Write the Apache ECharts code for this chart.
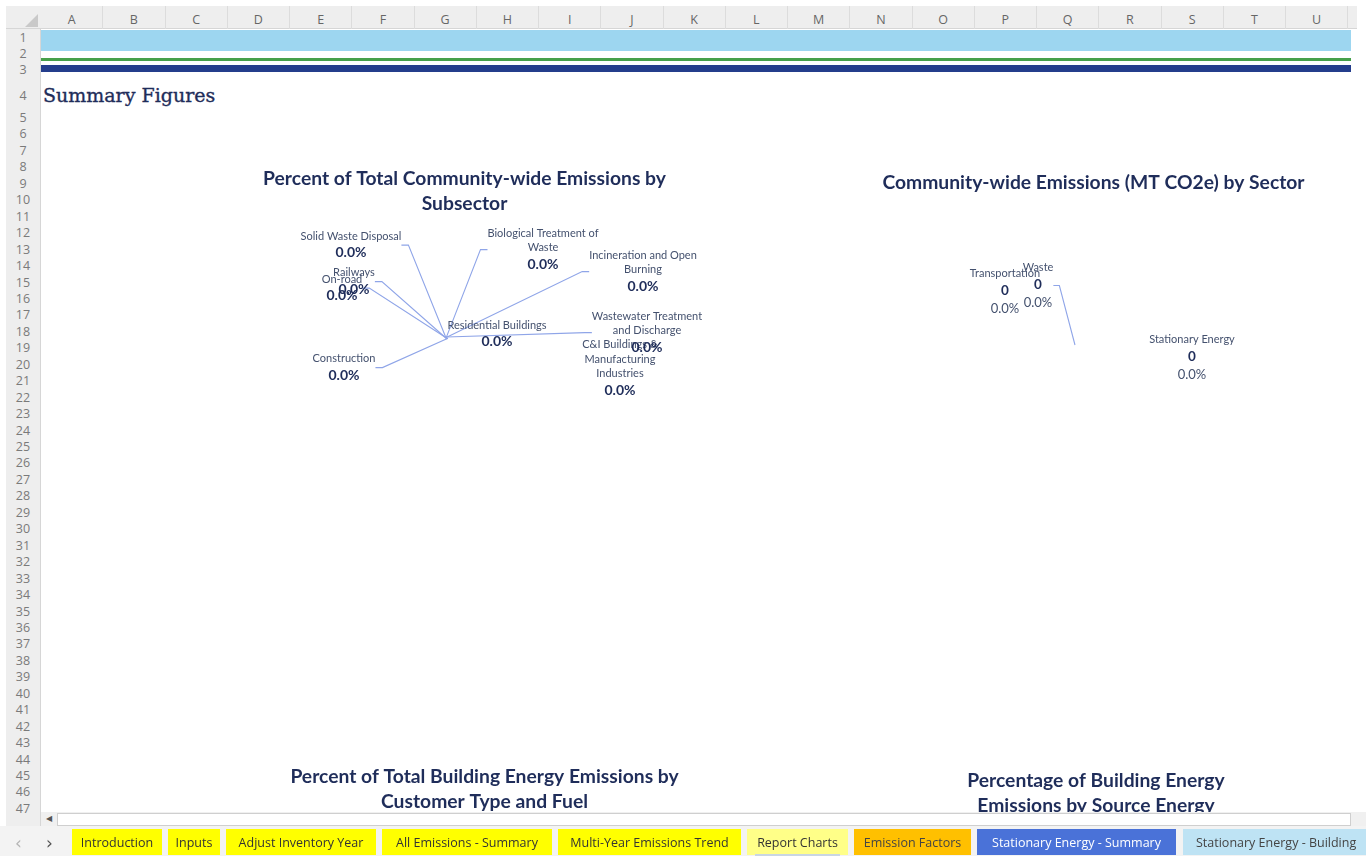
<!DOCTYPE html>
<html><head><meta charset="utf-8"><title>Summary Figures</title>
<script src="https://cdn.jsdelivr.net/npm/echarts@6/dist/echarts.min.js"></script>
<style>
*{box-sizing:border-box}
html,body{margin:0;padding:0;width:1366px;height:856px;overflow:hidden;background:#fff}
.a{position:absolute}
#chart{position:absolute;left:0;top:0;width:1366px;height:856px;z-index:1}
.chrome{z-index:2}
#colhdr{left:6px;top:6px;width:1351px;height:23px;background:#EEEEEE;border-bottom:1px solid #D6D6D6}
.col{position:absolute;top:0;height:23px;padding-top:5px;line-height:22px;text-align:center;font:12.5px 'Open Sans',sans-serif;color:#666;border-right:1px solid #DCDCDC;overflow:hidden}
#rowhdr{left:6px;top:29px;width:35px;height:797px;background:#EEEEEE;border-right:1px solid #D6D6D6}
.rn{position:absolute;left:0;width:34px;text-align:center;font:12.5px 'Open Sans',sans-serif;color:#7a7a7a;height:16px;line-height:16px}
#corner{left:25px;top:14px;width:0;height:0;border-left:13px solid transparent;border-bottom:13px solid #C9C9C9}
#hscroll{left:41px;top:812px;width:1325px;height:14px;background:#F0F0F0}
#hbar{left:57px;top:813px;width:1294px;height:13px;background:#fff;border:1px solid #CFCFCF}
#harrow{left:43px;top:812px;width:12px;height:14px;font:8px 'DejaVu Sans',sans-serif;color:#555;line-height:14px;text-align:center}
#tabbar{left:0;top:826px;width:1366px;height:30px;background:#F3F3F3}
.tab{position:absolute;top:3px;height:26px;padding-top:5px;line-height:26px;text-align:center;font:12.5px 'Open Sans',sans-serif;color:#333;white-space:nowrap;overflow:hidden}
.nav{position:absolute;top:3px;height:26px;padding-top:4px;line-height:26px;font:17px 'DejaVu Sans',sans-serif;overflow:hidden}
#fill1{left:41px;top:30px;width:1310px;height:21px;background:#9DD6F0;z-index:0}
#fill2{left:41px;top:58px;width:1310px;height:3px;background:#46A04A;z-index:0}
#fill3{left:41px;top:65px;width:1310px;height:7px;background:#243D8C;z-index:0}
#heading{left:43px;top:84px;font:19px 'DejaVu Serif',serif;color:#1F2D5A;white-space:nowrap;z-index:0;-webkit-text-stroke:0.35px #1F2D5A}
</style></head>
<body>
<div id="fill1" class="a"></div>
<div id="fill2" class="a"></div>
<div id="fill3" class="a"></div>
<div id="heading" class="a">Summary Figures</div>
<div id="chart"></div>
<div id="colhdr" class="a chrome"></div>
<div id="rowhdr" class="a chrome"></div>
<div id="corner" class="a chrome"></div>
<div id="hscroll" class="a chrome"></div>
<div id="hbar" class="a chrome"></div>
<div id="harrow" class="a chrome">&#9664;</div>
<div id="tabbar" class="a chrome"></div>
<script>
// ---------- data ----------
const SUBSECTORS = ['Residential Buildings', 'C&I Buildings & Manufacturing Industries', 'Construction', 'On-road', 'Railways', 'Solid Waste Disposal', 'Biological Treatment of Waste', 'Incineration and Open Burning', 'Wastewater Treatment and Discharge'];
const SUBSECTOR_EMISSIONS = [0, 0, 0, 0, 0, 0, 0, 0, 0];
const SECTORS = ['Stationary Energy', 'Transportation', 'Waste'];
const SECTOR_EMISSIONS = [0, 0, 0];
const CHART_TITLES = [
  'Percent of Total Community-wide Emissions by\nSubsector',
  'Community-wide Emissions (MT CO2e) by Sector',
  'Percent of Total Building Energy Emissions by\nCustomer Type and Fuel',
  'Percentage of Building Energy\nEmissions by Source Energy'
];
const COLUMN_LABELS = ['A','B','C','D','E','F','G','H','I','J','K','L','M','N','O','P','Q','R','S','T','U'];
const ROW_LABELS = [1,2,3,4,5,6,7,8,9,10,11,12,13,14,15,16,17,18,19,20,21,22,23,24,25,26,27,28,29,30,31,32,33,34,35,36,37,38,39,40,41,42,43,44,45,46,47];
const SHEET_TABS = ['Introduction', 'Inputs', 'Adjust Inventory Year', 'All Emissions - Summary', 'Multi-Year Emissions Trend', 'Report Charts', 'Emission Factors', 'Stationary Energy - Summary', 'Stationary Energy - Building'];

// ---------- layout / style ----------
const TAB_BOX = [[72,90],[168,52],[226,150],[382,170],[558,183],[747,101],[854,117],[977,199],[1183,200]];
const TAB_STYLE = [['#FFFF00','#333'],['#FFFF00','#333'],['#FFFF00','#333'],['#FFFF00','#333'],['#FFFF00','#333'],['#FFFF88','#333'],['#FFC000','#444'],['#4A72D8','#fff'],['#BEE3F4','#444']];
const TITLE_POS = [[464.5,166.5],[1093.5,170.5],[484.5,764.5],[1096,768]];
const PIE1 = {
  center: [447, 338],
  offsets: {
    'Residential Buildings': [50, -3.5],
    'C&I Buildings & Manufacturing Industries': [173, 30.5],
    'Construction': [-103, 30],
    'On-road': [-105, -49.5],
    'Railways': [-93, -56],
    'Solid Waste Disposal': [-96, -92.5],
    'Biological Treatment of Waste': [96, -88],
    'Incineration and Open Burning': [196, -66],
    'Wastewater Treatment and Discharge': [200, -5]
  },
  noLine: ['Residential Buildings', 'C&I Buildings & Manufacturing Industries']
};
const PIE2 = {
  center: [1075, 345],
  offsets: { 'Stationary Energy': [117, 12.5], 'Transportation': [-70, -53.5], 'Waste': [-37, -59.5] },
  noLine: ['Stationary Energy', 'Transportation'],
  lineSide: { 'Waste': 'right' },
  length2: 6
};
// words per wrapped line
const LABEL_BREAKS = {
  'Biological Treatment of Waste': [3, 1],
  'Incineration and Open Burning': [3, 1],
  'Wastewater Treatment and Discharge': [2, 2],
  'C&I Buildings & Manufacturing Industries': [3, 1, 1]
};
const FONT = 'Lato';
const NAVY = '#1F2D5A';
const GREY = '#44516E';
const LINE = '#8FA5E8';

// ---------- chrome ----------
const colhdr = document.getElementById('colhdr');
COLUMN_LABELS.forEach((c, i) => {
  const d = document.createElement('div');
  d.className = 'col';
  d.style.left = (35 + i * 62.25) + 'px';
  d.style.width = '62.25px';
  d.textContent = c;
  colhdr.appendChild(d);
});
const rowhdr = document.getElementById('rowhdr');
ROW_LABELS.forEach((r) => {
  let cy;
  if (r <= 3) cy = 37 + (r - 1) * 16;
  else if (r === 4) cy = 95;
  else cy = 117 + (r - 5) * 16.45;
  const d = document.createElement('div');
  d.className = 'rn';
  d.style.top = (cy - 29 - 7) + 'px';
  d.textContent = r;
  rowhdr.appendChild(d);
});
const tabbar = document.getElementById('tabbar');
[['\u2039', 15, '#B5B5B5'], ['\u203A', 46, '#555']].forEach(([ch, x, c]) => {
  const d = document.createElement('div');
  d.className = 'nav'; d.style.left = x + 'px'; d.style.color = c; d.textContent = ch;
  tabbar.appendChild(d);
});
SHEET_TABS.forEach((t, i) => {
  const d = document.createElement('div');
  d.className = 'tab';
  d.style.left = TAB_BOX[i][0] + 'px';
  d.style.width = TAB_BOX[i][1] + 'px';
  d.style.background = TAB_STYLE[i][0];
  d.style.color = TAB_STYLE[i][1];
  d.style.textAlign = i === SHEET_TABS.length - 1 ? 'left' : 'center';
  if (i === SHEET_TABS.length - 1) d.style.paddingLeft = '13px';
  d.textContent = t;
  tabbar.appendChild(d);
});
const ul = document.createElement('div');
ul.className = 'a'; ul.style.left = '755px'; ul.style.top = '28px'; ul.style.width = '85px'; ul.style.height = '2px'; ul.style.background = '#C9D6E3';
tabbar.appendChild(ul);

// ---------- chart ----------
function nameLines(name) {
  const br = LABEL_BREAKS[name];
  if (!br) return [name];
  const w = name.split(' ');
  const out = []; let k = 0;
  br.forEach(n => { out.push(w.slice(k, k + n).join(' ')); k += n; });
  return out;
}
function pct(p) { return (p.percent || 0).toFixed(1) + '%'; }

function makeLayout(cfg, names) {
  return function (p) {
    const name = names[p.dataIndex];
    const off = cfg.offsets[name];
    const x = cfg.center[0] + off[0], y = cfg.center[1] + off[1];
    const res = { x: x, y: y, align: 'center', verticalAlign: 'middle' };
    const side = cfg.lineSide && cfg.lineSide[name];
    if (side && p.labelRect) {
      // guide line from the pie centre to the chosen side of the laid-out label box
      const hw = p.labelRect.width / 2;
      const ex = side === 'right' ? x + hw : x - hw;
      const dir = side === 'right' ? 1 : -1;
      res.labelLinePoints = [cfg.center.slice(), [ex + dir * cfg.length2, y], [ex, y]];
    }
    return res;
  };
}

const pie1 = {
  type: 'pie', center: PIE1.center, radius: [0, 1], stillShowZeroSum: true, showEmptyCircle: false,
  avoidLabelOverlap: false, silent: true, startAngle: 90,
  itemStyle: { color: 'rgba(0,0,0,0)' },
  data: SUBSECTORS.map((n, i) => ({ name: n, value: SUBSECTOR_EMISSIONS[i], labelLine: { show: PIE1.noLine.indexOf(n) < 0 } })),
  label: {
    show: true, position: 'outside', color: GREY, padding: [0, 4],
    formatter: p => nameLines(p.name).map(l => '{n|' + l + '}').join('\n') + '\n{p|' + pct(p) + '}',
    rich: {
      n: { fontFamily: FONT, fontSize: 11, color: GREY, lineHeight: 14.5, align: 'center' },
      p: { fontFamily: FONT, fontSize: 14, fontWeight: 'bold', color: NAVY, lineHeight: 19, align: 'center' }
    }
  },
  labelLine: { show: true, length: 10, length2: 7, minTurnAngle: 0, lineStyle: { color: LINE, width: 1.1 } },
  labelLayout: makeLayout(PIE1, SUBSECTORS)
};

const pie2 = {
  type: 'pie', center: PIE2.center, radius: [0, 1], stillShowZeroSum: true, showEmptyCircle: false,
  avoidLabelOverlap: false, silent: true, startAngle: 90,
  itemStyle: { color: 'rgba(0,0,0,0)' },
  data: SECTORS.map((n, i) => ({ name: n, value: SECTOR_EMISSIONS[i], labelLine: { show: PIE2.noLine.indexOf(n) < 0 } })),
  label: {
    show: true, position: 'outside', color: GREY, padding: [0, 4],
    formatter: p => '{n|' + p.name + '}\n{v|' + p.value + '}\n{p|' + pct(p) + '}',
    rich: {
      n: { fontFamily: FONT, fontSize: 11, color: GREY, lineHeight: 17, align: 'center' },
      v: { fontFamily: FONT, fontSize: 13.5, fontWeight: 'bold', color: NAVY, lineHeight: 17, align: 'center' },
      p: { fontFamily: FONT, fontSize: 13, color: GREY, lineHeight: 19, align: 'center' }
    }
  },
  labelLine: { show: true, length: 10, length2: 6, minTurnAngle: 0, lineStyle: { color: LINE, width: 1.1 } },
  labelLayout: makeLayout(PIE2, SECTORS)
};

const chart = echarts.init(document.getElementById('chart'), null, { renderer: 'canvas', width: 1366, height: 856 });
chart.setOption({
  animation: false,
  backgroundColor: 'transparent',
  title: CHART_TITLES.map((t, i) => ({
    text: t, left: TITLE_POS[i][0], top: TITLE_POS[i][1], textAlign: 'center', textVerticalAlign: 'top', padding: 0,
    textStyle: { fontFamily: FONT, fontWeight: 'bold', fontSize: 19.3, color: NAVY, lineHeight: 25 }
  })),
  series: [pie1, pie2]
});
</script>
</body></html>
